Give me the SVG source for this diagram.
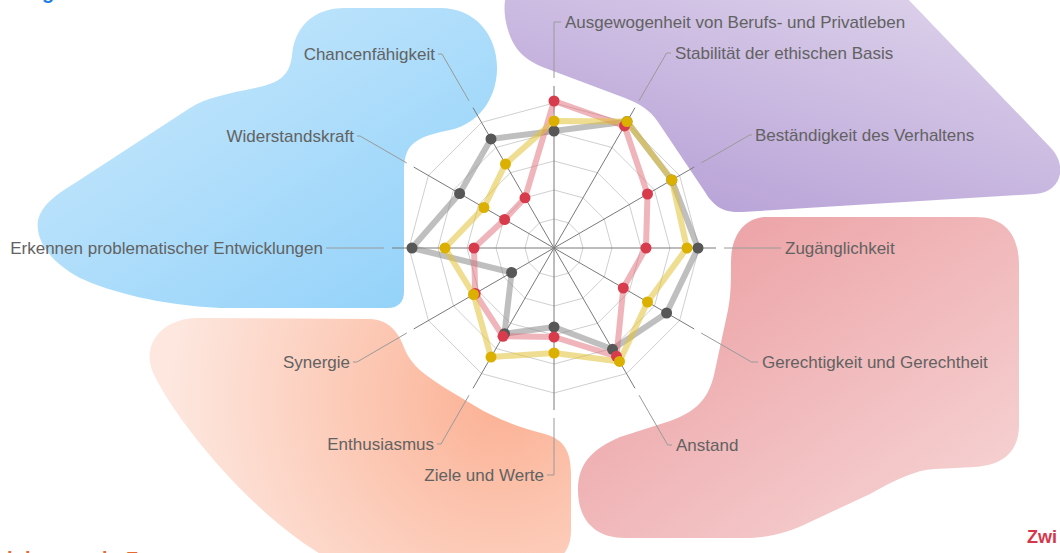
<svg xmlns="http://www.w3.org/2000/svg" width="1060" height="553" viewBox="0 0 1060 553">
<defs>
<linearGradient id="gBlue" x1="0" y1="0" x2="1" y2="1"><stop offset="0" stop-color="#cdeafc"/><stop offset="1" stop-color="#8ed0f9"/></linearGradient>
<linearGradient id="gPurple" x1="1" y1="0" x2="0.3" y2="1"><stop offset="0" stop-color="#e3daee"/><stop offset="1" stop-color="#b8a2d7"/></linearGradient>
<linearGradient id="gRed" x1="0" y1="0" x2="1" y2="1"><stop offset="0" stop-color="#ea999d"/><stop offset="1" stop-color="#f7d7d7"/></linearGradient>
<radialGradient id="gOrange" gradientUnits="userSpaceOnUse" cx="500" cy="400" r="330"><stop offset="0" stop-color="#fbb194"/><stop offset="1" stop-color="#fde7df"/></radialGradient>
<style>
.lbl{font-family:"Liberation Sans",Arial,sans-serif;font-size:17px;fill:#626262}
.ring{fill:none;stroke:#d0d0d0;stroke-width:1}
.axis{stroke:#7a7a7a;stroke-width:1}
.lead{fill:none;stroke:#9a9a9a;stroke-width:1}
.ln{fill:none;stroke-width:6;stroke-linejoin:round}
.sg .ln{stroke:#8a8a8a;stroke-opacity:0.55}
.sr .ln{stroke:#e06c78;stroke-opacity:0.5}
.sy .ln{stroke:#e2c336;stroke-opacity:0.55}
.sg circle{fill:#575757}
.sr circle{fill:#d83c4c}
.sy circle{fill:#dcb000}
</style>
</defs>
<rect width="1060" height="553" fill="#ffffff"/>
<g id="blobs">
<path fill="url(#gBlue)" d="M292,55 C295,25 315,8 345,8 L440,8 C475,8 498,35 497,70 C496,100 478,124 450,130 C430,134 415,138 408,150 C404,158 404,165 404,180 L404,292 C404,302 398,308 388,308 L220,308 C160,305 110,292 80,278 C50,262 35,240 38,220 C42,205 55,195 75,183 L190,108 C205,98 230,93 255,88 C280,83 290,75 292,55 Z"/>
<path fill="url(#gPurple)" d="M530,-30 C505,-25 500,5 508,30 C514,50 525,60 545,68 L625,98 C640,104 650,110 658,122 L705,192 C713,205 722,213 742,212 L1035,194 C1062,192 1068,165 1050,147 L880,-30 Z"/>
<path fill="url(#gRed)" d="M767,217 L975,217 C1005,217 1019,235 1019,265 L1019,425 C1019,450 1005,465 975,467 L935,469 C915,470 895,480 870,494 L810,522 C790,532 770,538 745,538 L625,538 C595,538 578,520 578,490 C578,465 590,450 620,437 L670,421 C695,412 708,400 714,375 L728,310 C731,295 731,280 731,262 C731,235 745,217 767,217 Z"/>
<path fill="url(#gOrange)" d="M195,318 L370,319 C388,320 398,330 405,350 C412,366 425,375 445,388 L475,406 C495,418 520,428 545,434 C565,440 571,452 571,475 L571,530 C571,552 560,565 530,565 L340,565 C300,545 260,510 230,478 C195,440 165,400 152,370 C143,345 160,320 195,318 Z"/>
</g>
<g id="grid" transform="translate(554,248)">
<polygon class="ring" points="0,-29 14.5,-25.1 25.1,-14.5 29,0 25.1,14.5 14.5,25.1 0,29 -14.5,25.1 -25.1,14.5 -29,0 -25.1,-14.5 -14.5,-25.1"/>
<polygon class="ring" points="0,-58 29,-50.2 50.2,-29 58,0 50.2,29 29,50.2 0,58 -29,50.2 -50.2,29 -58,0 -50.2,-29 -29,-50.2"/>
<polygon class="ring" points="0,-87 43.5,-75.3 75.3,-43.5 87,0 75.3,43.5 43.5,75.3 0,87 -43.5,75.3 -75.3,43.5 -87,0 -75.3,-43.5 -43.5,-75.3"/>
<polygon class="ring" points="0,-116 58,-100.5 100.5,-58 116,0 100.5,58 58,100.5 0,116 -58,100.5 -100.5,58 -116,0 -100.5,-58 -58,-100.5"/>
<polygon class="ring" points="0,-145 72.5,-125.6 125.6,-72.5 145,0 125.6,72.5 72.5,125.6 0,145 -72.5,125.6 -125.6,72.5 -145,0 -125.6,-72.5 -72.5,-125.6"/>
<line class="axis" x1="0" y1="0" x2="0" y2="-162"/>
<line class="axis" x1="0" y1="0" x2="81" y2="-140.3"/>
<line class="axis" x1="0" y1="0" x2="140.3" y2="-81"/>
<line class="axis" x1="0" y1="0" x2="162" y2="0"/>
<line class="axis" x1="0" y1="0" x2="140.3" y2="81"/>
<line class="axis" x1="0" y1="0" x2="81" y2="140.3"/>
<line class="axis" x1="0" y1="0" x2="0" y2="162"/>
<line class="axis" x1="0" y1="0" x2="-81" y2="140.3"/>
<line class="axis" x1="0" y1="0" x2="-140.3" y2="81"/>
<line class="axis" x1="0" y1="0" x2="-162" y2="0"/>
<line class="axis" x1="0" y1="0" x2="-140.3" y2="-81"/>
<line class="axis" x1="0" y1="0" x2="-81" y2="-140.3"/>
</g>
<g id="connectors">
<path class="lead" d="M554,78 V22 H561"/>
<path class="lead" d="M639,100.8 L666.6,53 H671"/>
<path class="lead" d="M701.2,163 L749.7,135 H752"/>
<path class="lead" d="M724,248 H781"/>
<path class="lead" d="M701.2,333 L751.5,362 H758"/>
<path class="lead" d="M639,395.2 L667.7,445 H672"/>
<path class="lead" d="M554,418 V475 H547"/>
<path class="lead" d="M469,395.2 L441,444 H437"/>
<path class="lead" d="M406.8,333 L357,362 H353"/>
<path class="lead" d="M384,248 H326"/>
<path class="lead" d="M406.8,163 L360,136 H357"/>
<path class="lead" d="M469,100.8 L442,54 H438"/>
</g>
<g id="series-gray" class="sg">
<polygon class="ln" points="554,131 627,121.6 671.8,180 698,248 666.6,313 612.5,349.3 554,327 504.5,333.7 511.6,272.5 412,248 459.6,193.5 491,138.9"/>
</g>
<g id="series-red" class="sr">
<polygon class="ln" points="554,101 624.5,125.9 647.5,194 646,248 623.3,288 616.5,356.3 554,337 503,336.3 475.2,293.5 474,248 504.6,219.5 525,197.8"/>
</g>
<g id="series-yellow" class="sy">
<polygon class="ln" points="554,121 627,121.6 671.8,180 687,248 647.5,302 619.5,361.4 554,353 491,357.1 473.5,294.5 445,248 483.9,207.5 505.5,164"/>
</g>
<g id="dots-gray" class="sg">
<circle cx="554" cy="131" r="5.5"/><circle cx="627" cy="121.6" r="5.5"/><circle cx="671.8" cy="180" r="5.5"/><circle cx="698" cy="248" r="5.5"/><circle cx="666.6" cy="313" r="5.5"/><circle cx="612.5" cy="349.3" r="5.5"/><circle cx="554" cy="327" r="5.5"/><circle cx="504.5" cy="333.7" r="5.5"/><circle cx="511.6" cy="272.5" r="5.5"/><circle cx="412" cy="248" r="5.5"/><circle cx="459.6" cy="193.5" r="5.5"/><circle cx="491" cy="138.9" r="5.5"/>
</g>
<g id="dots-red" class="sr">
<circle cx="554" cy="101" r="5.5"/><circle cx="624.5" cy="125.9" r="5.5"/><circle cx="647.5" cy="194" r="5.5"/><circle cx="646" cy="248" r="5.5"/><circle cx="623.3" cy="288" r="5.5"/><circle cx="616.5" cy="356.3" r="5.5"/><circle cx="554" cy="337" r="5.5"/><circle cx="503" cy="336.3" r="5.5"/><circle cx="475.2" cy="293.5" r="5.5"/><circle cx="474" cy="248" r="5.5"/><circle cx="504.6" cy="219.5" r="5.5"/><circle cx="525" cy="197.8" r="5.5"/>
</g>
<g id="dots-yellow" class="sy">
<circle cx="554" cy="121" r="5.5"/><circle cx="627" cy="121.6" r="5.5"/><circle cx="671.8" cy="180" r="5.5"/><circle cx="687" cy="248" r="5.5"/><circle cx="647.5" cy="302" r="5.5"/><circle cx="619.5" cy="361.4" r="5.5"/><circle cx="554" cy="353" r="5.5"/><circle cx="491" cy="357.1" r="5.5"/><circle cx="473.5" cy="294.5" r="5.5"/><circle cx="445" cy="248" r="5.5"/><circle cx="483.9" cy="207.5" r="5.5"/><circle cx="505.5" cy="164" r="5.5"/>
</g>
<g id="label-ausgewogenheit"><text class="lbl" x="565" y="28">Ausgewogenheit von Berufs- und Privatleben</text></g>
<g id="label-stabilitaet"><text class="lbl" x="675" y="59">Stabilität der ethischen Basis</text></g>
<g id="label-bestaendigkeit"><text class="lbl" x="755" y="141">Beständigkeit des Verhaltens</text></g>
<g id="label-zugaenglichkeit"><text class="lbl" x="785" y="254">Zugänglichkeit</text></g>
<g id="label-gerechtigkeit"><text class="lbl" x="762" y="368">Gerechtigkeit und Gerechtheit</text></g>
<g id="label-anstand"><text class="lbl" x="676" y="451">Anstand</text></g>
<g id="label-ziele"><text class="lbl" x="544" y="481" text-anchor="end">Ziele und Werte</text></g>
<g id="label-enthusiasmus"><text class="lbl" x="434" y="450" text-anchor="end">Enthusiasmus</text></g>
<g id="label-synergie"><text class="lbl" x="350" y="368" text-anchor="end">Synergie</text></g>
<g id="label-erkennen"><text class="lbl" x="323" y="254" text-anchor="end">Erkennen problematischer Entwicklungen</text></g>
<g id="label-widerstandskraft"><text class="lbl" x="354" y="142" text-anchor="end">Widerstandskraft</text></g>
<g id="label-chancen"><text class="lbl" x="435" y="60" text-anchor="end">Chancenfähigkeit</text></g>
<g id="cut-texts" font-family="Liberation Sans, Arial, sans-serif" font-weight="bold">
<text x="42" y="-1" font-size="20" fill="#1f7fe6">g</text>
<text y="566" font-size="20" fill="#e8692e"><tspan x="7">i</tspan><tspan x="25">l</tspan><tspan x="102">i</tspan><tspan x="126">Z</tspan></text>
<text x="1027" y="543" font-size="18" fill="#d6364a">Zwi</text>
</g>
</svg>
